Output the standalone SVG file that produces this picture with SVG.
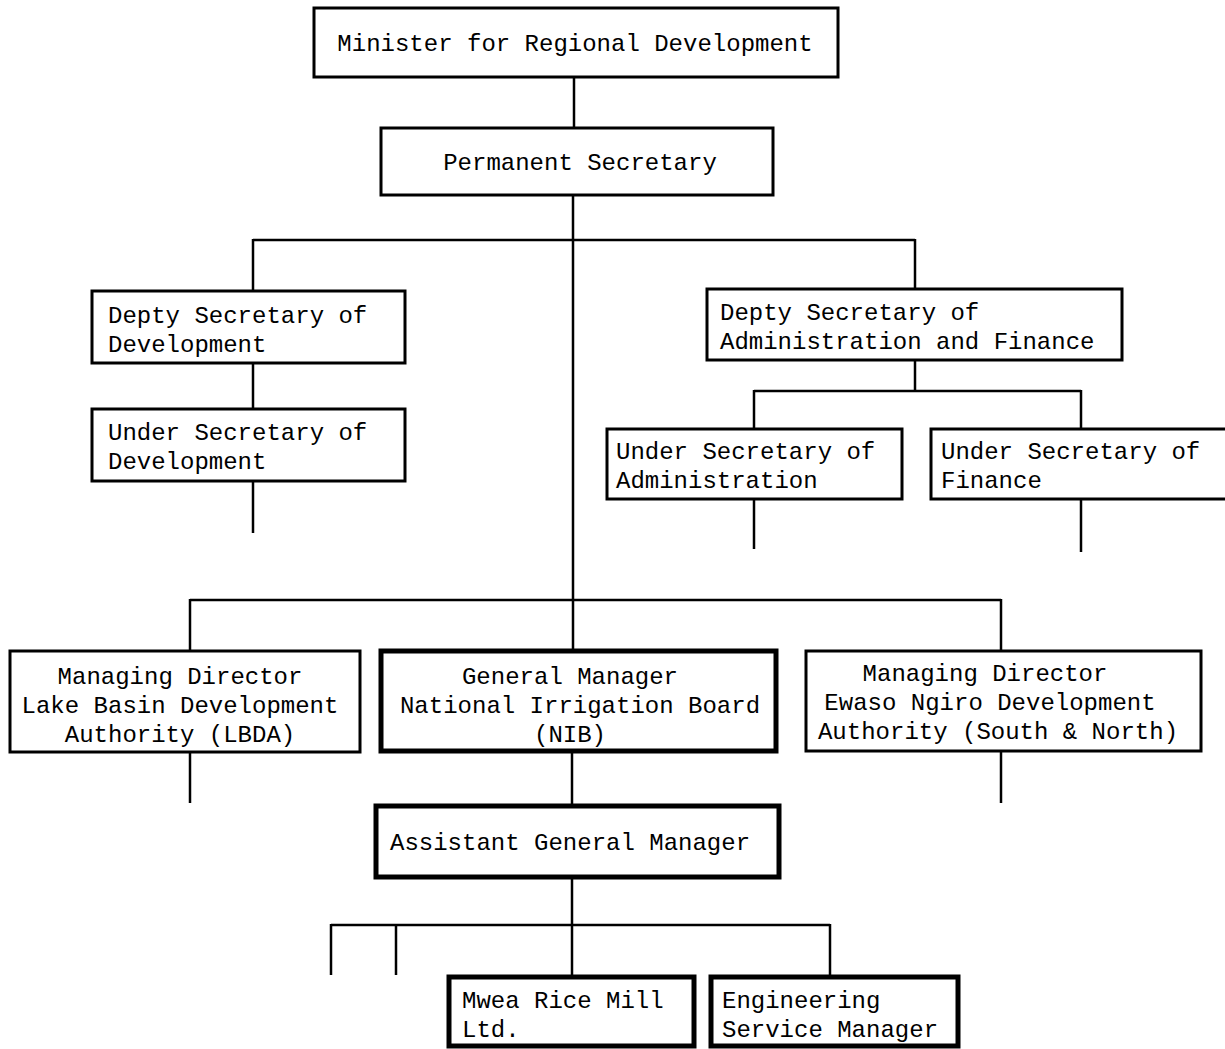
<svg xmlns="http://www.w3.org/2000/svg" width="1225" height="1049" viewBox="0 0 1225 1049">
  <style>
    .box { fill: #fff; stroke: #000; stroke-width: 3; }
    .bold { fill: #fff; stroke: #000; stroke-width: 5; }
    .lbl { font-family: "Liberation Mono", "Courier New", monospace; font-size: 24px; fill: #000; }
    .mid { text-anchor: middle; }
    #links line { stroke: #000; stroke-width: 2.5; }
  </style>
  <rect width="1225" height="1049" fill="#fff"/>

  <!-- connectors -->
  <g id="links">
    <line x1="574" y1="77" x2="574" y2="127"/>
    <line x1="573" y1="195" x2="573" y2="650"/>
    <line x1="253" y1="240" x2="915" y2="240"/>
    <line x1="253" y1="239" x2="253" y2="290"/>
    <line x1="915" y1="239" x2="915" y2="288"/>
    <line x1="253" y1="363" x2="253" y2="408"/>
    <line x1="253" y1="481" x2="253" y2="533"/>
    <line x1="915" y1="360" x2="915" y2="391"/>
    <line x1="754" y1="391" x2="1081" y2="391"/>
    <line x1="754" y1="390" x2="754" y2="428"/>
    <line x1="1081" y1="390" x2="1081" y2="428"/>
    <line x1="754" y1="499" x2="754" y2="549"/>
    <line x1="1081" y1="499" x2="1081" y2="552"/>
    <line x1="190" y1="600" x2="1001" y2="600"/>
    <line x1="190" y1="599" x2="190" y2="650"/>
    <line x1="1001" y1="599" x2="1001" y2="650"/>
    <line x1="190" y1="752" x2="190" y2="803"/>
    <line x1="1001" y1="752" x2="1001" y2="803"/>
    <line x1="572" y1="752" x2="572" y2="805"/>
    <line x1="572" y1="878" x2="572" y2="975"/>
    <line x1="331" y1="925" x2="830" y2="925"/>
    <line x1="331" y1="924" x2="331" y2="975"/>
    <line x1="396" y1="924" x2="396" y2="975"/>
    <line x1="830" y1="924" x2="830" y2="975"/>
  </g>

  <g id="minister">
    <rect class="box" x="314" y="8" width="524" height="69"/>
    <text class="lbl mid" x="575" y="51">Minister for Regional Development</text>
  </g>

  <g id="permanent-secretary">
    <rect class="box" x="381" y="128" width="392" height="67"/>
    <text class="lbl mid" x="580" y="170">Permanent Secretary</text>
  </g>

  <g id="deputy-development">
    <rect class="box" x="92" y="291" width="313" height="72"/>
    <text class="lbl" x="108" y="323">Depty Secretary of</text>
    <text class="lbl" x="108" y="352">Development</text>
  </g>

  <g id="under-development">
    <rect class="box" x="92" y="409" width="313" height="72"/>
    <text class="lbl" x="108" y="440">Under Secretary of</text>
    <text class="lbl" x="108" y="469">Development</text>
  </g>

  <g id="deputy-admin-finance">
    <rect class="box" x="707" y="289" width="415" height="71"/>
    <text class="lbl" x="720" y="320">Depty Secretary of</text>
    <text class="lbl" x="720" y="349">Administration and Finance</text>
  </g>

  <g id="under-administration">
    <rect class="box" x="607" y="429" width="295" height="70"/>
    <text class="lbl" x="616" y="459">Under Secretary of</text>
    <text class="lbl" x="616" y="488">Administration</text>
  </g>

  <g id="under-finance">
    <rect class="box" x="931" y="429" width="300" height="70"/>
    <text class="lbl" x="941" y="459">Under Secretary of</text>
    <text class="lbl" x="941" y="488">Finance</text>
  </g>

  <g id="lbda">
    <rect class="box" x="10" y="651" width="350" height="101"/>
    <text class="lbl mid" x="180" y="684">Managing Director</text>
    <text class="lbl mid" x="180" y="713">Lake Basin Development</text>
    <text class="lbl mid" x="180" y="742">Authority (LBDA)</text>
  </g>

  <g id="nib">
    <rect class="bold" x="381" y="651" width="395" height="100"/>
    <text class="lbl mid" x="570" y="684">General Manager</text>
    <text class="lbl mid" x="580" y="713">National Irrigation Board</text>
    <text class="lbl mid" x="570" y="742">(NIB)</text>
  </g>

  <g id="ensda">
    <rect class="box" x="806" y="651" width="395" height="100"/>
    <text class="lbl mid" x="985" y="681">Managing Director</text>
    <text class="lbl mid" x="990" y="710">Ewaso Ngiro Development</text>
    <text class="lbl mid" x="998" y="739">Authority (South &amp; North)</text>
  </g>

  <g id="assistant-gm">
    <rect class="bold" x="376" y="806" width="403" height="71"/>
    <text class="lbl" x="390" y="850">Assistant General Manager</text>
  </g>

  <g id="mwea">
    <rect class="bold" x="449" y="977" width="245" height="69"/>
    <text class="lbl" x="462" y="1008">Mwea Rice Mill</text>
    <text class="lbl" x="462" y="1037">Ltd.</text>
  </g>

  <g id="engineering">
    <rect class="bold" x="711" y="977" width="247" height="69"/>
    <text class="lbl" x="722" y="1008">Engineering</text>
    <text class="lbl" x="722" y="1037">Service Manager</text>
  </g>
</svg>
